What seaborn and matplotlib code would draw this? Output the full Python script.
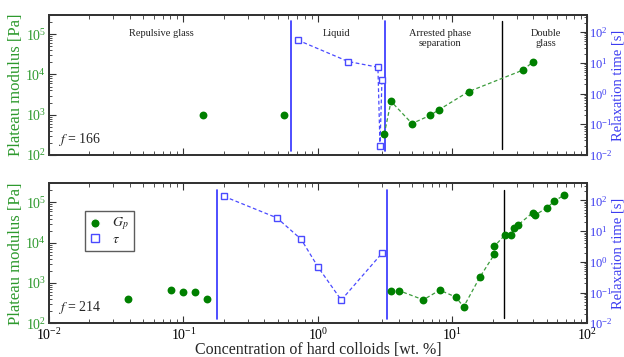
import numpy as np
import pandas as pd
import matplotlib
matplotlib.use("Agg")
import matplotlib.pyplot as plt
import seaborn as sns
from matplotlib.ticker import LogLocator, NullFormatter

sns.set_style("ticks")
plt.rcParams['font.family'] = ['Liberation Serif', 'DejaVu Serif']
plt.rcParams['mathtext.fontset'] = 'stix'
plt.rcParams['axes.unicode_minus'] = False

# f = 166 panel (first points = repulsive glass, not joined by a line)
top_gp_x = [0.139, 0.558, 3.11, 3.49, 5.0, 6.8, 7.94, 13.2, 33.3, 39.9]
top_gp_y = [1000, 1000, 329, 2150, 605, 960, 1334, 3760, 12800, 20800]
top_n_free = 2
top_tau_x = [0.706, 1.68, 2.79, 2.89, 2.99]
top_tau_y = [55, 11, 7.2, 0.020, 2.8]
top_blue_lines = [0.627, 3.15]
top_black_lines = [23.4]

# f = 214 panel
bot_gp_x = [0.039, 0.0807, 0.1, 0.121, 0.149, 3.49, 4.02, 6.07, 8.04, 10.6, 12.1, 16.0,
            20.5, 20.5, 24.5, 27.1, 28.6, 30.7, 39.5, 41.3, 50.7, 56.9, 67.1]
bot_gp_y = [412, 653, 582, 596, 412, 643, 643, 383, 668, 447, 256, 1412,
            5190, 8220, 15500, 15500, 22700, 27500, 56200, 49000, 75000, 107000, 151000]
bot_n_free = 5
bot_tau_x = [0.2, 0.495, 0.75, 1.0, 1.49, 2.99]
bot_tau_y = [135, 27, 5.4, 0.68, 0.057, 1.9]
bot_blue_lines = [0.177, 3.27]
bot_black_lines = [24.0]

regions = ["Repulsive glass", "Liquid", "Arrested phase\nseparation", "Double\nglass"]
region_x = [0.068, 1.38, 8.07, 49.3]

green = "#008000"
green_lbl = "#2e9a2e"
blue = "#4a4aff"
blue_lbl = "#3b3bf0"

fig = plt.figure(figsize=(6.24, 3.57), dpi=100)
ax1 = fig.add_axes([0.0785, 0.5658, 0.8622, 0.3922])
ax2 = fig.add_axes([0.0785, 0.0944, 0.8622, 0.3922])


def log_ticks(axis):
    axis.set_major_locator(LogLocator(base=10, numticks=10))
    axis.set_minor_locator(LogLocator(base=10, subs=np.arange(2, 10), numticks=20))
    axis.set_minor_formatter(NullFormatter())


def style_axes(ax, tw):
    for a in (ax, tw):
        a.set_xscale("log")
        a.set_yscale("log")
        for s in a.spines.values():
            s.set_color("#333333")
            s.set_linewidth(1.3)
    ax.tick_params(axis="x", which="both", direction="in", top=True, bottom=True, colors="#333333")
    ax.tick_params(axis="x", which="major", length=5, labelsize=10, labelcolor="black", pad=3)
    ax.tick_params(axis="x", which="minor", length=3)
    ax.tick_params(axis="y", which="both", direction="in", left=True, right=False, colors="#333333")
    ax.tick_params(axis="y", which="major", length=5, labelsize=10, labelcolor=green_lbl, pad=2)
    ax.tick_params(axis="y", which="minor", length=2.5)
    tw.tick_params(axis="y", which="both", direction="in", right=True, colors="#333333")
    tw.tick_params(axis="y", which="major", length=5, labelsize=9, labelcolor=blue_lbl, pad=1.5)
    tw.tick_params(axis="y", which="minor", length=2.5)
    log_ticks(ax.xaxis)
    log_ticks(ax.yaxis)
    log_ticks(tw.yaxis)


def draw_panel(ax, gx, gy, nfree, tx, ty, blines, klines, ftxt):
    tw = ax.twinx()
    style_axes(ax, tw)
    for xv in blines:
        ax.axvline(xv, ymin=0.03, ymax=0.955, color="#3030ff", lw=1.2)
    for xv in klines:
        ax.axvline(xv, ymin=0.04, ymax=0.955, color="black", lw=1.0)
    gdf = pd.DataFrame({"x": gx, "y": gy})
    tdf = pd.DataFrame({"x": tx, "y": ty})
    sns.lineplot(data=gdf.iloc[nfree:], x="x", y="y", ax=ax, sort=False, estimator=None,
                 color="#3c9c3c", lw=0.9, linestyle=(0, (3, 2)), legend=False)
    sns.scatterplot(data=gdf, x="x", y="y", ax=ax, color=green, s=32, linewidth=0,
                    marker="o", label="$G_p$", legend=False, zorder=5)
    sns.lineplot(data=tdf, x="x", y="y", ax=tw, sort=False, estimator=None, color=blue,
                 lw=0.9, linestyle=(0, (3, 2)), marker="s", markersize=4.6,
                 markeredgecolor=blue, markerfacecolor="white", markeredgewidth=1.0,
                 label=r"$\tau$", legend=False)
    ax.set_xlim(1e-2, 1e2)
    ax.set_ylim(1e2, 3e5)
    tw.set_ylim(1e-2, 3.6e2)
    ax.set_ylabel("Plateau modulus [Pa]", color=green_lbl, fontsize=12, labelpad=1)
    tw.set_ylabel("Relaxation time [s]", color=blue_lbl, fontsize=10.5)
    tw.yaxis.set_label_coords(1.045, 0.5)
    ax.text(0.0117, 150, ftxt, fontsize=10, ha="left", va="bottom")
    return tw


tw1 = draw_panel(ax1, top_gp_x, top_gp_y, top_n_free, top_tau_x, top_tau_y,
                 top_blue_lines, top_black_lines, "$\\mathit{f}$ = 166")
tw2 = draw_panel(ax2, bot_gp_x, bot_gp_y, bot_n_free, bot_tau_x, bot_tau_y,
                 bot_blue_lines, bot_black_lines, "$\\mathit{f}$ = 214")

ax1.set_xlabel("")
ax1.tick_params(axis="x", which="both", labelbottom=False)
ax2.set_xlabel("Concentration of hard colloids [wt. %]", fontsize=11.5, labelpad=-1)

for txt, xv in zip(regions, region_x):
    ax1.text(xv, 1.38e5, txt, fontsize=7.5, ha="center", va="top", color="#222222",
             linespacing=1.15)

h1, l1 = ax2.get_legend_handles_labels()
h2, l2 = tw2.get_legend_handles_labels()
leg = ax2.legend(h1 + h2, ["$G_p$", r"$\tau$"], loc="upper left",
                 bbox_to_anchor=(0.067, 0.805), borderaxespad=0, fontsize=10,
                 frameon=True, fancybox=False, edgecolor="#333333", handlelength=0.7,
                 handletextpad=0.9, borderpad=0.35, labelspacing=0.05, markerscale=1.2)
leg.get_frame().set_linewidth(1.0)
for h in leg.legend_handles:
    h.set_linestyle("None")
leg.set_zorder(10)

fig.savefig("out.png", dpi=100)
